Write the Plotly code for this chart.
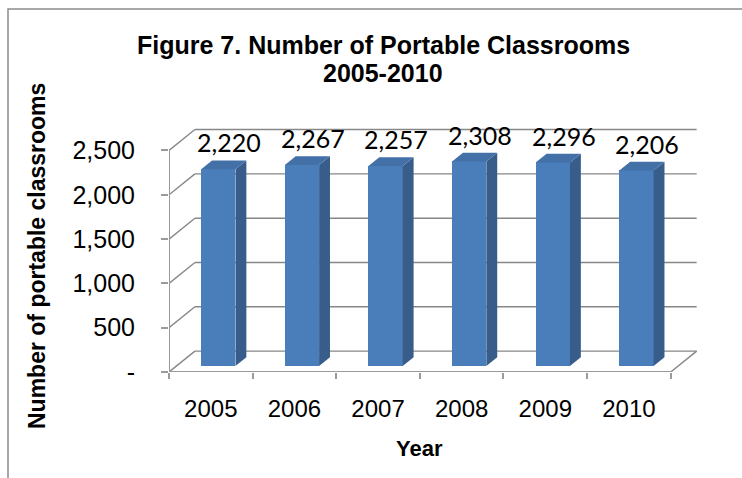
import plotly.graph_objects as go

# ---- data ----
years = ["2005", "2006", "2007", "2008", "2009", "2010"]
classrooms = [2220, 2267, 2257, 2308, 2296, 2206]
y_tick_values = [0, 500, 1000, 1500, 2000, 2500]
y_tick_labels = ["-", "500", "1,000", "1,500", "2,000", "2,500"]

# ---- canvas / plot box (pixels) ----
W, H = 742, 478
L, R, T, B = 169, 42, 120, 106
PW, PH = W - L - R, H - T - B
X_MAX = 6.35
Y_MAX = 2844


def px_x(px):
    return (px - L) / PW


def px_y(py):
    return (H - B - py) / PH


# oblique depth of the 3-D box, in axis units
DX = 0.31      # horizontal shift from front to back wall
DY = 236       # vertical shift from front to back wall
BAR_W = 0.41   # front face width of a column
F0 = 0.29      # depth fraction where the column front sits
BD = 0.42      # depth fraction occupied by a column

GRID = "#878787"
FRONT = "#4A7EBB"
SIDE = "#385D8A"
TOP = "#4470A8"

n = len(years)
centers = [i + 0.5 for i in range(n)]

fig = go.Figure()
shapes = []

# back wall gridlines and left side-wall diagonals
for v in y_tick_values:
    shapes.append(dict(type="line", xref="x", yref="y", layer="below",
                       x0=DX, y0=v + DY, x1=n + DX, y1=v + DY,
                       line=dict(color=GRID, width=1.4)))
    shapes.append(dict(type="line", xref="x", yref="y", layer="below",
                       x0=0, y0=v, x1=DX, y1=v + DY,
                       line=dict(color=GRID, width=1.4)))

# floor: front edge and right edge
shapes.append(dict(type="line", xref="x", yref="y", layer="below",
                   x0=0, y0=0, x1=n, y1=0,
                   line=dict(color="#9a9a9a", width=2)))
shapes.append(dict(type="line", xref="x", yref="y", layer="below",
                   x0=n, y0=0, x1=n + DX, y1=DY,
                   line=dict(color=GRID, width=1.4)))
# front vertical axis
shapes.append(dict(type="line", xref="x", yref="y", layer="below",
                   x0=0, y0=0, x1=0, y1=y_tick_values[-1],
                   line=dict(color="#9a9a9a", width=2)))

# outer chart frame
shapes.append(dict(type="rect", xref="paper", yref="paper", layer="below",
                   x0=px_x(8), y0=px_y(520), x1=px_x(780), y1=px_y(9),
                   line=dict(color="#8c8c8c", width=1.5)))

# column front faces
fig.add_trace(go.Bar(
    x=[c + F0 * DX for c in centers], y=classrooms,
    base=[F0 * DY] * n, width=BAR_W,
    marker=dict(color=FRONT, line=dict(width=0)),
    hoverinfo="skip", showlegend=False,
))

# column side and top faces
for c, v in zip(centers, classrooms):
    x0 = c - BAR_W / 2 + F0 * DX
    x1 = x0 + BAR_W
    y0 = F0 * DY
    y1 = v + F0 * DY
    ddx, ddy = BD * DX, BD * DY
    fig.add_trace(go.Scatter(
        x=[x1, x1 + ddx, x1 + ddx, x1, x1],
        y=[y0, y0 + ddy, y1 + ddy, y1, y0],
        mode="lines", fill="toself", fillcolor=SIDE,
        line=dict(width=0, color=SIDE), hoverinfo="skip", showlegend=False))
    fig.add_trace(go.Scatter(
        x=[x0, x1, x1 + ddx, x0 + ddx, x0],
        y=[y1, y1, y1 + ddy, y1 + ddy, y1],
        mode="lines", fill="toself", fillcolor=TOP,
        line=dict(width=0, color=TOP), hoverinfo="skip", showlegend=False))

annotations = []
# value labels above columns
for c, v in zip(centers, classrooms):
    annotations.append(dict(
        x=c + F0 * DX + BD * DX, y=v + (F0 + BD) * DY,
        xref="x", yref="y", text=f"{v:,}", showarrow=False,
        xanchor="center", yanchor="bottom", yshift=1,
        font=dict(family="Lato", size=25, color="black")))

# titles
TITLE_FONT = dict(family="Liberation Sans", size=25, color="black")
annotations.append(dict(
    x=px_x(383), y=px_y(45), xref="paper", yref="paper",
    text="<b>Figure 7. Number of Portable Classrooms</b>",
    showarrow=False, xanchor="center", yanchor="middle", font=TITLE_FONT))
annotations.append(dict(
    x=px_x(383), y=px_y(73), xref="paper", yref="paper",
    text="<b>2005-2010</b>",
    showarrow=False, xanchor="center", yanchor="middle", font=TITLE_FONT))
annotations.append(dict(
    x=n / 2, y=px_y(448), xref="x", yref="paper",
    text="<b>Year</b>", showarrow=False, xanchor="center", yanchor="middle",
    font=dict(family="Liberation Sans", size=22, color="black")))
annotations.append(dict(
    x=px_x(37), y=px_y(256), xref="paper", yref="paper",
    text="<b>Number of portable classrooms</b>", textangle=-90,
    showarrow=False, xanchor="center", yanchor="middle",
    font=dict(family="Liberation Sans", size=23, color="black")))

fig.update_layout(
    width=W, height=H,
    margin=dict(l=L, r=R, t=T, b=B, pad=0),
    paper_bgcolor="white", plot_bgcolor="white",
    shapes=shapes, annotations=annotations,
    showlegend=False, bargap=0,
    xaxis=dict(
        range=[0, X_MAX], showgrid=False, zeroline=False, showline=False,
        tickvals=centers, ticktext=years, ticks="",
        tickfont=dict(family="Liberation Sans", size=24, color="black"),
        ticklabelstandoff=20,
        minor=dict(tickvals=list(range(n + 1)), ticks="outside",
                   ticklen=6, tickwidth=1.5, tickcolor="#9a9a9a",
                   showgrid=False),
    ),
    yaxis=dict(
        range=[0, Y_MAX], showgrid=False, zeroline=False, showline=False,
        tickvals=y_tick_values, ticktext=y_tick_labels,
        ticks="outside", ticklen=7, tickwidth=1.5, tickcolor="#9a9a9a",
        tickfont=dict(family="Liberation Sans", size=25, color="black"),
        ticklabelstandoff=21,
    ),
)

fig.write_html("out.html")
